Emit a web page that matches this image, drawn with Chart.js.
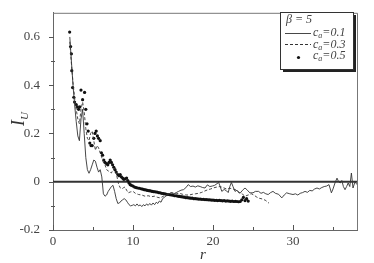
<!DOCTYPE html>
<html>
<head>
<meta charset="utf-8">
<script src="https://cdn.jsdelivr.net/npm/chart.js@4.4.1/dist/chart.umd.min.js"></script>
<style>
  html, body { margin: 0; padding: 0; background: #fff; }
  #wrap { width: 374px; height: 263px; }
</style>
</head>
<body>
<div id="wrap"><canvas id="ic"></canvas></div>
<script>
// c_a = 0.1 (solid)
const rA = [2.1,2.3,2.5,2.7,2.9,3.1,3.3,3.5,3.7,3.9,4.1,4.3,4.5,4.7,4.9,5.1,5.3,5.5,5.7,5.9,6.1,6.3,6.5,6.7,6.9,7.1,7.3,7.5,7.7,7.9,8.1,8.3,8.5,8.7,8.9,9.1,9.3,9.5,9.7,9.9,10.1,10.3,10.5,10.7,10.9,11.1,11.3,11.5,11.7,11.9,12.1,12.3,12.5,12.7,12.9,13.1,13.3,13.5,13.7,13.9,14.1,14.3,14.5,14.8,15.1,15.4,15.7,16.0,16.3,16.6,16.9,17.2,17.5,17.8,18.1,18.4,18.7,19.0,19.3,19.6,19.9,20.2,20.5,20.7,20.9,21.1,21.4,21.7,21.9,22.1,22.3,22.5,22.75,23.0,23.2,23.4,23.7,24.0,24.3,24.6,25.0,25.3,25.7,26.0,26.3,26.6,26.9,27.2,27.5,27.8,28.2,28.6,28.9,29.2,29.6,30.0,30.3,30.6,30.9,31.2,31.5,31.8,32.1,32.4,32.7,33.0,33.3,33.6,33.9,34.2,34.5,34.8,35.0,35.25,35.5,35.7,35.9,36.1,36.3,36.5,36.7,36.9,37.1,37.3,37.5,37.75,38.0];
const vA = [0.60,0.50,0.40,0.32,0.25,0.19,0.17,0.26,0.30,0.20,0.10,0.05,0.035,0.05,0.07,0.09,0.085,0.06,0.04,0.05,0.02,-0.05,-0.06,-0.055,-0.04,-0.03,-0.02,-0.015,-0.04,-0.07,-0.09,-0.088,-0.08,-0.075,-0.07,-0.075,-0.085,-0.095,-0.1,-0.098,-0.095,-0.1,-0.092,-0.1,-0.096,-0.103,-0.095,-0.1,-0.092,-0.098,-0.09,-0.097,-0.088,-0.095,-0.085,-0.09,-0.08,-0.085,-0.07,-0.065,-0.06,-0.055,-0.05,-0.046,-0.05,-0.045,-0.04,-0.035,-0.033,-0.025,-0.012,-0.02,-0.018,-0.022,-0.017,-0.02,-0.024,-0.026,-0.013,-0.02,-0.018,-0.015,-0.008,-0.003,-0.02,-0.04,-0.032,-0.038,-0.045,-0.02,-0.003,-0.02,-0.04,-0.035,-0.045,-0.047,-0.035,-0.026,-0.035,-0.046,-0.046,-0.04,-0.04,-0.048,-0.044,-0.05,-0.053,-0.045,-0.04,-0.048,-0.052,-0.067,-0.055,-0.046,-0.05,-0.053,-0.05,-0.055,-0.048,-0.045,-0.04,-0.044,-0.036,-0.038,-0.03,-0.026,-0.03,-0.024,-0.02,-0.018,-0.012,-0.046,-0.03,-0.005,0.015,0.0,-0.005,0.005,-0.02,-0.033,-0.02,-0.005,-0.02,0.036,-0.026,0.0,-0.012];

// c_a = 0.3 (dashed)
const rB = [2.1,2.3,2.5,2.7,2.9,3.1,3.3,3.5,3.7,3.9,4.1,4.3,4.5,4.7,4.9,5.1,5.3,5.5,5.7,5.9,6.1,6.3,6.5,6.7,6.9,7.1,7.3,7.5,7.75,8.0,8.2,8.4,8.6,8.8,9.0,9.2,9.4,9.7,10.0,10.3,10.7,11.1,11.5,11.9,12.3,12.7,13.1,13.4,13.8,14.2,14.6,15.0,15.4,15.8,16.2,16.6,17.0,17.4,17.8,18.2,18.6,19.0,19.3,19.7,20.1,20.5,20.9,21.3,21.7,22.1,22.5,22.9,23.3,23.7,24.0,24.4,24.8,25.1,25.4,25.7,26.0,26.3,26.6,27.0];
const vB = [0.58,0.49,0.41,0.35,0.30,0.26,0.24,0.30,0.33,0.29,0.22,0.18,0.17,0.20,0.21,0.17,0.13,0.15,0.14,0.12,0.10,0.08,0.07,0.05,0.045,0.04,0.036,0.05,0.055,0.02,-0.01,-0.025,-0.03,-0.025,-0.022,-0.035,-0.046,-0.042,-0.04,-0.048,-0.053,-0.055,-0.06,-0.058,-0.062,-0.06,-0.065,-0.067,-0.06,-0.053,-0.046,-0.046,-0.05,-0.048,-0.052,-0.055,-0.055,-0.052,-0.05,-0.048,-0.044,-0.038,-0.034,-0.03,-0.025,-0.022,-0.02,-0.025,-0.03,-0.027,-0.03,-0.034,-0.045,-0.052,-0.06,-0.055,-0.05,-0.055,-0.062,-0.068,-0.07,-0.073,-0.078,-0.089];

// c_a = 0.5 (dots)
const rC = [2.08,2.2,2.3,2.35,2.45,2.6,2.7,2.9,3.05,3.2,3.35,3.5,3.7,3.95,4.1,4.25,4.4,4.6,4.75,4.9,5.1,5.25,5.4,5.55,5.7,5.9,6.05,6.2,6.35,6.5,6.7,6.85,7.0,7.15,7.3,7.45,7.6,7.75,7.9,8.1,8.25,8.4,8.55,8.7,8.85,9.0,9.2,9.35,9.5,9.65,9.8,10.0,10.2,10.4,10.6,10.8,11.0,11.2,11.4,11.6,11.8,12.0,12.2,12.4,12.6,12.8,13.0,13.2,13.4,13.6,13.8,14.0,14.2,14.4,14.6,14.8,15.0,15.2,15.4,15.6,15.8,16.0,16.2,16.4,16.6,16.8,17.0,17.2,17.4,17.6,17.8,18.0,18.2,18.4,18.6,18.8,19.0,19.2,19.4,19.6,19.8,20.0,20.2,20.4,20.6,20.8,21.0,21.2,21.4,21.6,21.8,22.0,22.2,22.4,22.6,22.8,23.0,23.2,23.4,23.6,23.8,24.0,24.2,24.4];
const vC = [0.62,0.56,0.53,0.46,0.39,0.35,0.33,0.32,0.31,0.30,0.31,0.38,0.34,0.37,0.30,0.24,0.21,0.16,0.15,0.15,0.18,0.20,0.21,0.19,0.18,0.17,0.12,0.11,0.09,0.08,0.075,0.07,0.08,0.09,0.08,0.07,0.06,0.05,0.04,0.03,0.025,0.03,0.02,0.015,0.01,0.012,0.015,0.005,-0.005,-0.012,-0.015,-0.018,-0.022,-0.024,-0.026,-0.027,-0.029,-0.031,-0.033,-0.034,-0.036,-0.037,-0.038,-0.04,-0.041,-0.042,-0.043,-0.045,-0.046,-0.048,-0.049,-0.05,-0.052,-0.053,-0.054,-0.055,-0.056,-0.058,-0.058,-0.06,-0.061,-0.062,-0.063,-0.064,-0.066,-0.066,-0.067,-0.068,-0.068,-0.07,-0.07,-0.071,-0.072,-0.072,-0.073,-0.073,-0.074,-0.074,-0.075,-0.075,-0.076,-0.076,-0.077,-0.077,-0.078,-0.077,-0.078,-0.079,-0.078,-0.08,-0.079,-0.08,-0.081,-0.08,-0.082,-0.081,-0.082,-0.083,-0.082,-0.075,-0.065,-0.078,-0.07,-0.08];

const xTicks = [0, 5, 10, 15, 20, 25, 30, 35];
const xLabels = [0, 10, 20, 30];
const yTicks = [-0.2, -0.1, 0, 0.1, 0.2, 0.3, 0.4, 0.5, 0.6];
const yLabels = ["-0.2", "0", "0.2", "0.4", "0.6"];

const pts = (xs, ys) => xs.map((x, i) => ({ x: x, y: ys[i] }));
const serif = "'Liberation Serif', 'DejaVu Serif', serif";

// ticks inside, zero line, frame, legend box, axis titles
const decor = {
  id: "decor",
  beforeDatasetsDraw(chart) {
    const { ctx, chartArea: a, scales: { y } } = chart;
    ctx.save();
    ctx.strokeStyle = "#333";
    ctx.lineWidth = 2;
    ctx.beginPath();
    ctx.moveTo(a.left, y.getPixelForValue(0));
    ctx.lineTo(a.right, y.getPixelForValue(0));
    ctx.stroke();
    ctx.restore();
  },
  afterDraw(chart) {
    const { ctx, chartArea: a, scales: { x, y } } = chart;
    ctx.save();
    ctx.strokeStyle = "#777";
    ctx.lineWidth = 1;
    ctx.beginPath();
    ctx.moveTo(a.left, a.top + 0.5);
    ctx.lineTo(a.right + 0.5, a.top + 0.5);
    ctx.lineTo(a.right + 0.5, a.bottom);
    ctx.stroke();

    ctx.strokeStyle = "#555";
    ctx.beginPath();
    xTicks.forEach(t => {
      const px = Math.round(x.getPixelForValue(t)) + 0.5;
      const len = t % 10 === 0 ? 5 : 3;
      ctx.moveTo(px, a.bottom);
      ctx.lineTo(px, a.bottom - len);
    });
    yTicks.forEach(t => {
      const py = Math.round(y.getPixelForValue(t)) + 0.5;
      const major = Math.round(t * 10) % 2 === 0;
      ctx.moveTo(a.left - (major ? 4 : 2), py);
      ctx.lineTo(a.left + (major ? 1 : 2), py);
    });
    ctx.stroke();

    // legend box
    const bx = 280, by = 12, bw = 73, bh = 57;
    ctx.fillStyle = "#222";
    ctx.fillRect(bx + 3, by + 3, bw, bh);
    ctx.fillStyle = "#fff";
    ctx.fillRect(bx, by, bw, bh);
    ctx.strokeStyle = "#333";
    ctx.lineWidth = 1;
    ctx.strokeRect(bx + 0.5, by + 0.5, bw, bh);

    ctx.fillStyle = "#444";
    ctx.textBaseline = "alphabetic";
    ctx.font = "italic 12px " + serif;
    ctx.fillText("\u03B2 = 5", bx + 6, by + 11);

    const rows = ["0.1", "0.3", "0.5"];
    rows.forEach((v, i) => {
      const ty = by + 24 + i * 11.5;
      ctx.font = "italic 12px " + serif;
      ctx.fillText("c", bx + 33, ty);
      const cw = ctx.measureText("c").width;
      ctx.font = "italic 8px " + serif;
      ctx.fillText("a", bx + 33 + cw, ty + 2);
      const aw = ctx.measureText("a").width;
      ctx.font = "italic 12px " + serif;
      ctx.fillText("=" + v, bx + 33 + cw + aw, ty);
    });
    ctx.strokeStyle = "#333";
    ctx.lineWidth = 0.9;
    ctx.beginPath();
    ctx.moveTo(bx + 5, by + 21.5);
    ctx.lineTo(bx + 31, by + 21.5);
    ctx.stroke();
    ctx.setLineDash([3, 2]);
    ctx.lineWidth = 1.2;
    ctx.beginPath();
    ctx.moveTo(bx + 5, by + 32.5);
    ctx.lineTo(bx + 31, by + 32.5);
    ctx.stroke();
    ctx.setLineDash([]);
    ctx.fillStyle = "#111";
    ctx.beginPath();
    ctx.arc(bx + 18.5, by + 45.5, 1.6, 0, Math.PI * 2);
    ctx.fill();

    // axis titles
    ctx.fillStyle = "#333";
    ctx.font = "italic 15px " + serif;
    ctx.textAlign = "center";
    ctx.fillText("r", 203, 259);
    ctx.save();
    ctx.translate(24, 120);
    ctx.rotate(-Math.PI / 2);
    ctx.font = "italic 18px " + serif;
    ctx.textAlign = "left";
    ctx.fillText("I", -6, 0);
    const iw = ctx.measureText("I").width;
    ctx.font = "italic 11px " + serif;
    ctx.fillText("U", -6 + iw, 4);
    ctx.restore();
    ctx.restore();
  }
};

new Chart(document.getElementById("ic"), {
  type: "scatter",
  data: {
    datasets: [
      {
        label: "ca=0.1",
        data: pts(rA, vA),
        showLine: true,
        borderColor: "#333",
        borderWidth: 0.9,
        pointRadius: 0,
        tension: 0,
      },
      {
        label: "ca=0.3",
        data: pts(rB, vB),
        showLine: true,
        borderColor: "#333",
        borderWidth: 0.9,
        borderDash: [3, 2],
        pointRadius: 0,
        tension: 0,
      },
      {
        label: "ca=0.5",
        data: pts(rC, vC),
        showLine: false,
        pointRadius: 1.6,
        pointBackgroundColor: "#111",
        pointBorderWidth: 0,
      },
    ],
  },
  options: {
    responsive: true,
    maintainAspectRatio: false,
    animation: false,
    layout: { padding: { top: 11, right: 17, left: 0, bottom: 0 } },
    plugins: { legend: { display: false }, tooltip: { enabled: false } },
    scales: {
      x: {
        type: "linear",
        min: 0,
        max: 38,
        grid: { display: false },
        border: { color: "#666", width: 1 },
        afterFit: s => { s.height = 33; },
        ticks: {
          stepSize: 5,
          autoSkip: false,
          maxRotation: 0,
          padding: -4,
          color: "#444",
          font: { family: serif, size: 13 },
          callback: v => (xLabels.includes(v) ? String(v) : ""),
        },
      },
      y: {
        min: -0.2,
        max: 0.7,
        grid: { display: false },
        border: { color: "#666", width: 1 },
        afterFit: s => { s.width = 53; },
        ticks: {
          stepSize: 0.1,
          autoSkip: false,
          padding: 5,
          color: "#444",
          font: { family: serif, size: 13 },
          callback: v => {
            const k = Math.round(v * 10);
            const s = k === 0 ? "0" : (k / 10).toFixed(1);
            return yLabels.includes(s) ? s : "";
          },
        },
      },
    },
  },
  plugins: [decor],
});
</script>
</body>
</html>
